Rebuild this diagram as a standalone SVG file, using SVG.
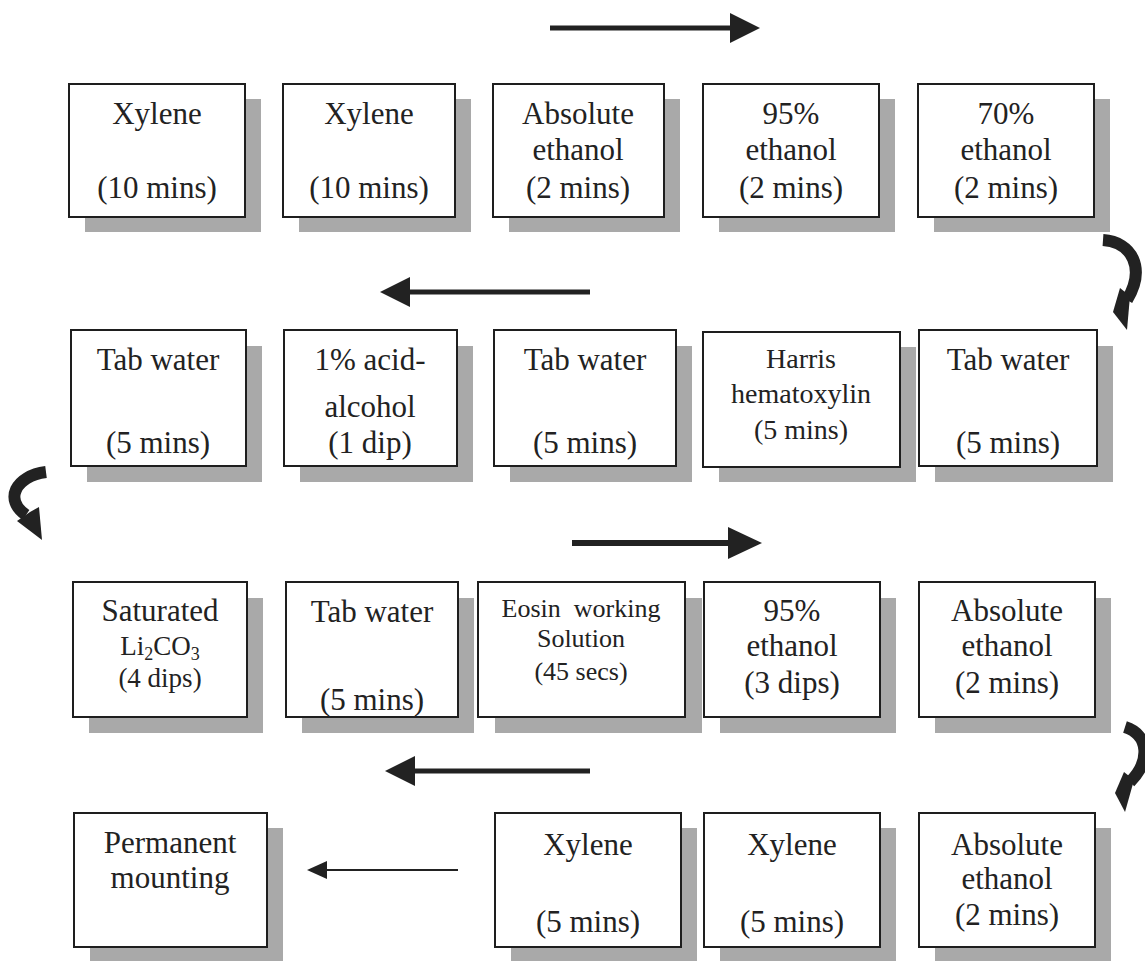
<svg xmlns="http://www.w3.org/2000/svg" width="1145" height="961" viewBox="0 0 1145 961">
<defs>
<style>
.sh{fill:#a9a9a9;}
.bx{fill:#fff;stroke:#1e1e1e;stroke-width:2;}
.t{font-family:"Liberation Serif","Times New Roman",serif;font-size:31px;fill:#222;text-anchor:middle;}
.s28{font-size:28px;}
.s26{font-size:26px;}
.s27{font-size:27px;}
.ar{stroke:#222;fill:none;}
.cv{stroke:#222;fill:none;stroke-width:12;}
.hd{fill:#222;}
</style>
<marker id="ah" viewBox="0 0 30 30" refX="0" refY="15" markerWidth="30" markerHeight="30" markerUnits="userSpaceOnUse" orient="auto"><path d="M0,0 L30,15 L0,30 Z" fill="#222"/></marker>
<marker id="ah2" viewBox="0 0 34 32" refX="0" refY="16" markerWidth="34" markerHeight="32" markerUnits="userSpaceOnUse" orient="auto"><path d="M0,0 L34,16 L0,32 Z" fill="#222"/></marker>
<marker id="ahs" viewBox="0 0 20 18" refX="0" refY="9" markerWidth="20" markerHeight="18" markerUnits="userSpaceOnUse" orient="auto"><path d="M0,0 L20,9 L0,18 Z" fill="#222"/></marker>
</defs>
<rect width="1145" height="961" fill="#fff"/>

<g id="connectors">
<line class="ar" x1="550" y1="28" x2="730" y2="28" stroke-width="5" marker-end="url(#ah)"/>
<line class="ar" x1="590" y1="292" x2="410" y2="292" stroke-width="5" marker-end="url(#ah)"/>
<line class="ar" x1="572" y1="543" x2="728" y2="543" stroke-width="6" marker-end="url(#ah2)"/>
<line class="ar" x1="590" y1="771" x2="415" y2="771" stroke-width="5" marker-end="url(#ah)"/>
<line class="ar" x1="458" y1="870" x2="327" y2="870" stroke-width="2" marker-end="url(#ahs)"/>
<path class="cv" d="M1103,240 C1132,242 1146,268 1127,300"/>
<polygon class="hd" points="1113,312 1120,288 1130,296 1127,330"/>
<path class="cv" d="M1125,727 C1150,735 1150,762 1130,782"/>
<polygon class="hd" points="1115,793 1124,772 1134,780 1125,812"/>
<path class="cv" d="M46,472 C15,476 4,500 26,515"/>
<polygon class="hd" points="42,540 17,521 30,512 39,507"/>
</g>

<g id="n1"><rect class="sh" x="85" y="99" width="176" height="133"/><rect class="bx" x="69" y="84" width="176" height="133"/><text class="t" x="157" y="124">Xylene</text><text class="t" x="157" y="198">(10 mins)</text></g>
<g id="n2"><rect class="sh" x="299" y="99" width="172" height="133"/><rect class="bx" x="283" y="84" width="172" height="133"/><text class="t" x="369" y="124">Xylene</text><text class="t" x="369" y="198">(10 mins)</text></g>
<g id="n3"><rect class="sh" x="509" y="99" width="171" height="133"/><rect class="bx" x="493" y="84" width="171" height="133"/><text class="t" x="578" y="124">Absolute</text><text class="t" x="578" y="160">ethanol</text><text class="t" x="578" y="198">(2 mins)</text></g>
<g id="n4"><rect class="sh" x="719" y="99" width="176" height="133"/><rect class="bx" x="703" y="84" width="176" height="133"/><text class="t" x="791" y="124">95%</text><text class="t" x="791" y="160">ethanol</text><text class="t" x="791" y="198">(2 mins)</text></g>
<g id="n5"><rect class="sh" x="934" y="99" width="176" height="133"/><rect class="bx" x="918" y="84" width="176" height="133"/><text class="t" x="1006" y="124">70%</text><text class="t" x="1006" y="160">ethanol</text><text class="t" x="1006" y="198">(2 mins)</text></g>

<g id="n6"><rect class="sh" x="87" y="346" width="175" height="136"/><rect class="bx" x="71" y="330" width="175" height="136"/><text class="t" x="158" y="370">Tab water</text><text class="t" x="158" y="453">(5 mins)</text></g>
<g id="n7"><rect class="sh" x="300" y="346" width="173" height="136"/><rect class="bx" x="284" y="330" width="173" height="136"/><text class="t" x="370" y="370">1% acid-</text><text class="t" x="370" y="417">alcohol</text><text class="t" x="370" y="453">(1 dip)</text></g>
<g id="n8"><rect class="sh" x="510" y="346" width="182" height="136"/><rect class="bx" x="494" y="330" width="182" height="136"/><text class="t" x="585" y="370">Tab water</text><text class="t" x="585" y="453">(5 mins)</text></g>
<g id="n9"><rect class="sh" x="719" y="347" width="197" height="135"/><rect class="bx" x="703" y="332" width="197" height="135"/><text class="t s28" x="801" y="368">Harris</text><text class="t s28" x="801" y="403">hematoxylin</text><text class="t s28" x="801" y="439">(5 mins)</text></g>
<g id="n10"><rect class="sh" x="935" y="346" width="178" height="136"/><rect class="bx" x="919" y="330" width="178" height="136"/><text class="t" x="1008" y="370">Tab water</text><text class="t" x="1008" y="453">(5 mins)</text></g>

<g id="n11"><rect class="sh" x="89" y="598" width="174" height="135"/><rect class="bx" x="73" y="582" width="174" height="135"/><text class="t" x="160" y="621">Saturated</text><text class="t s27" x="160" y="655">Li<tspan font-size="18" dy="5">2</tspan><tspan dy="-5">CO</tspan><tspan font-size="18" dy="5">3</tspan></text><text class="t s27" x="160" y="687">(4 dips)</text></g>
<g id="n12"><rect class="sh" x="302" y="598" width="172" height="135"/><rect class="bx" x="286" y="582" width="172" height="135"/><text class="t" x="372" y="622">Tab water</text><text class="t" x="372" y="710">(5 mins)</text></g>
<g id="n13"><rect class="sh" x="495" y="598" width="207" height="135"/><rect class="bx" x="478" y="582" width="207" height="135"/><text class="t s26" x="581" y="617" xml:space="preserve">Eosin  working</text><text class="t s26" x="581" y="647">Solution</text><text class="t s26" x="581" y="680">(45 secs)</text></g>
<g id="n14"><rect class="sh" x="720" y="598" width="176" height="135"/><rect class="bx" x="704" y="582" width="176" height="135"/><text class="t" x="792" y="621">95%</text><text class="t" x="792" y="656">ethanol</text><text class="t" x="792" y="693">(3 dips)</text></g>
<g id="n15"><rect class="sh" x="935" y="598" width="176" height="135"/><rect class="bx" x="919" y="582" width="176" height="135"/><text class="t" x="1007" y="621">Absolute</text><text class="t" x="1007" y="656">ethanol</text><text class="t" x="1007" y="693">(2 mins)</text></g>

<g id="n16"><rect class="sh" x="90" y="828" width="193" height="134"/><rect class="bx" x="74" y="813" width="193" height="134"/><text class="t" x="170" y="853">Permanent</text><text class="t" x="170" y="888">mounting</text></g>
<g id="n17"><rect class="sh" x="511" y="828" width="186" height="134"/><rect class="bx" x="495" y="813" width="186" height="134"/><text class="t" x="588" y="855">Xylene</text><text class="t" x="588" y="932">(5 mins)</text></g>
<g id="n18"><rect class="sh" x="720" y="828" width="176" height="134"/><rect class="bx" x="704" y="813" width="176" height="134"/><text class="t" x="792" y="855">Xylene</text><text class="t" x="792" y="932">(5 mins)</text></g>
<g id="n19"><rect class="sh" x="935" y="828" width="176" height="134"/><rect class="bx" x="919" y="813" width="176" height="134"/><text class="t" x="1007" y="855">Absolute</text><text class="t" x="1007" y="889">ethanol</text><text class="t" x="1007" y="925">(2 mins)</text></g>
</svg>
